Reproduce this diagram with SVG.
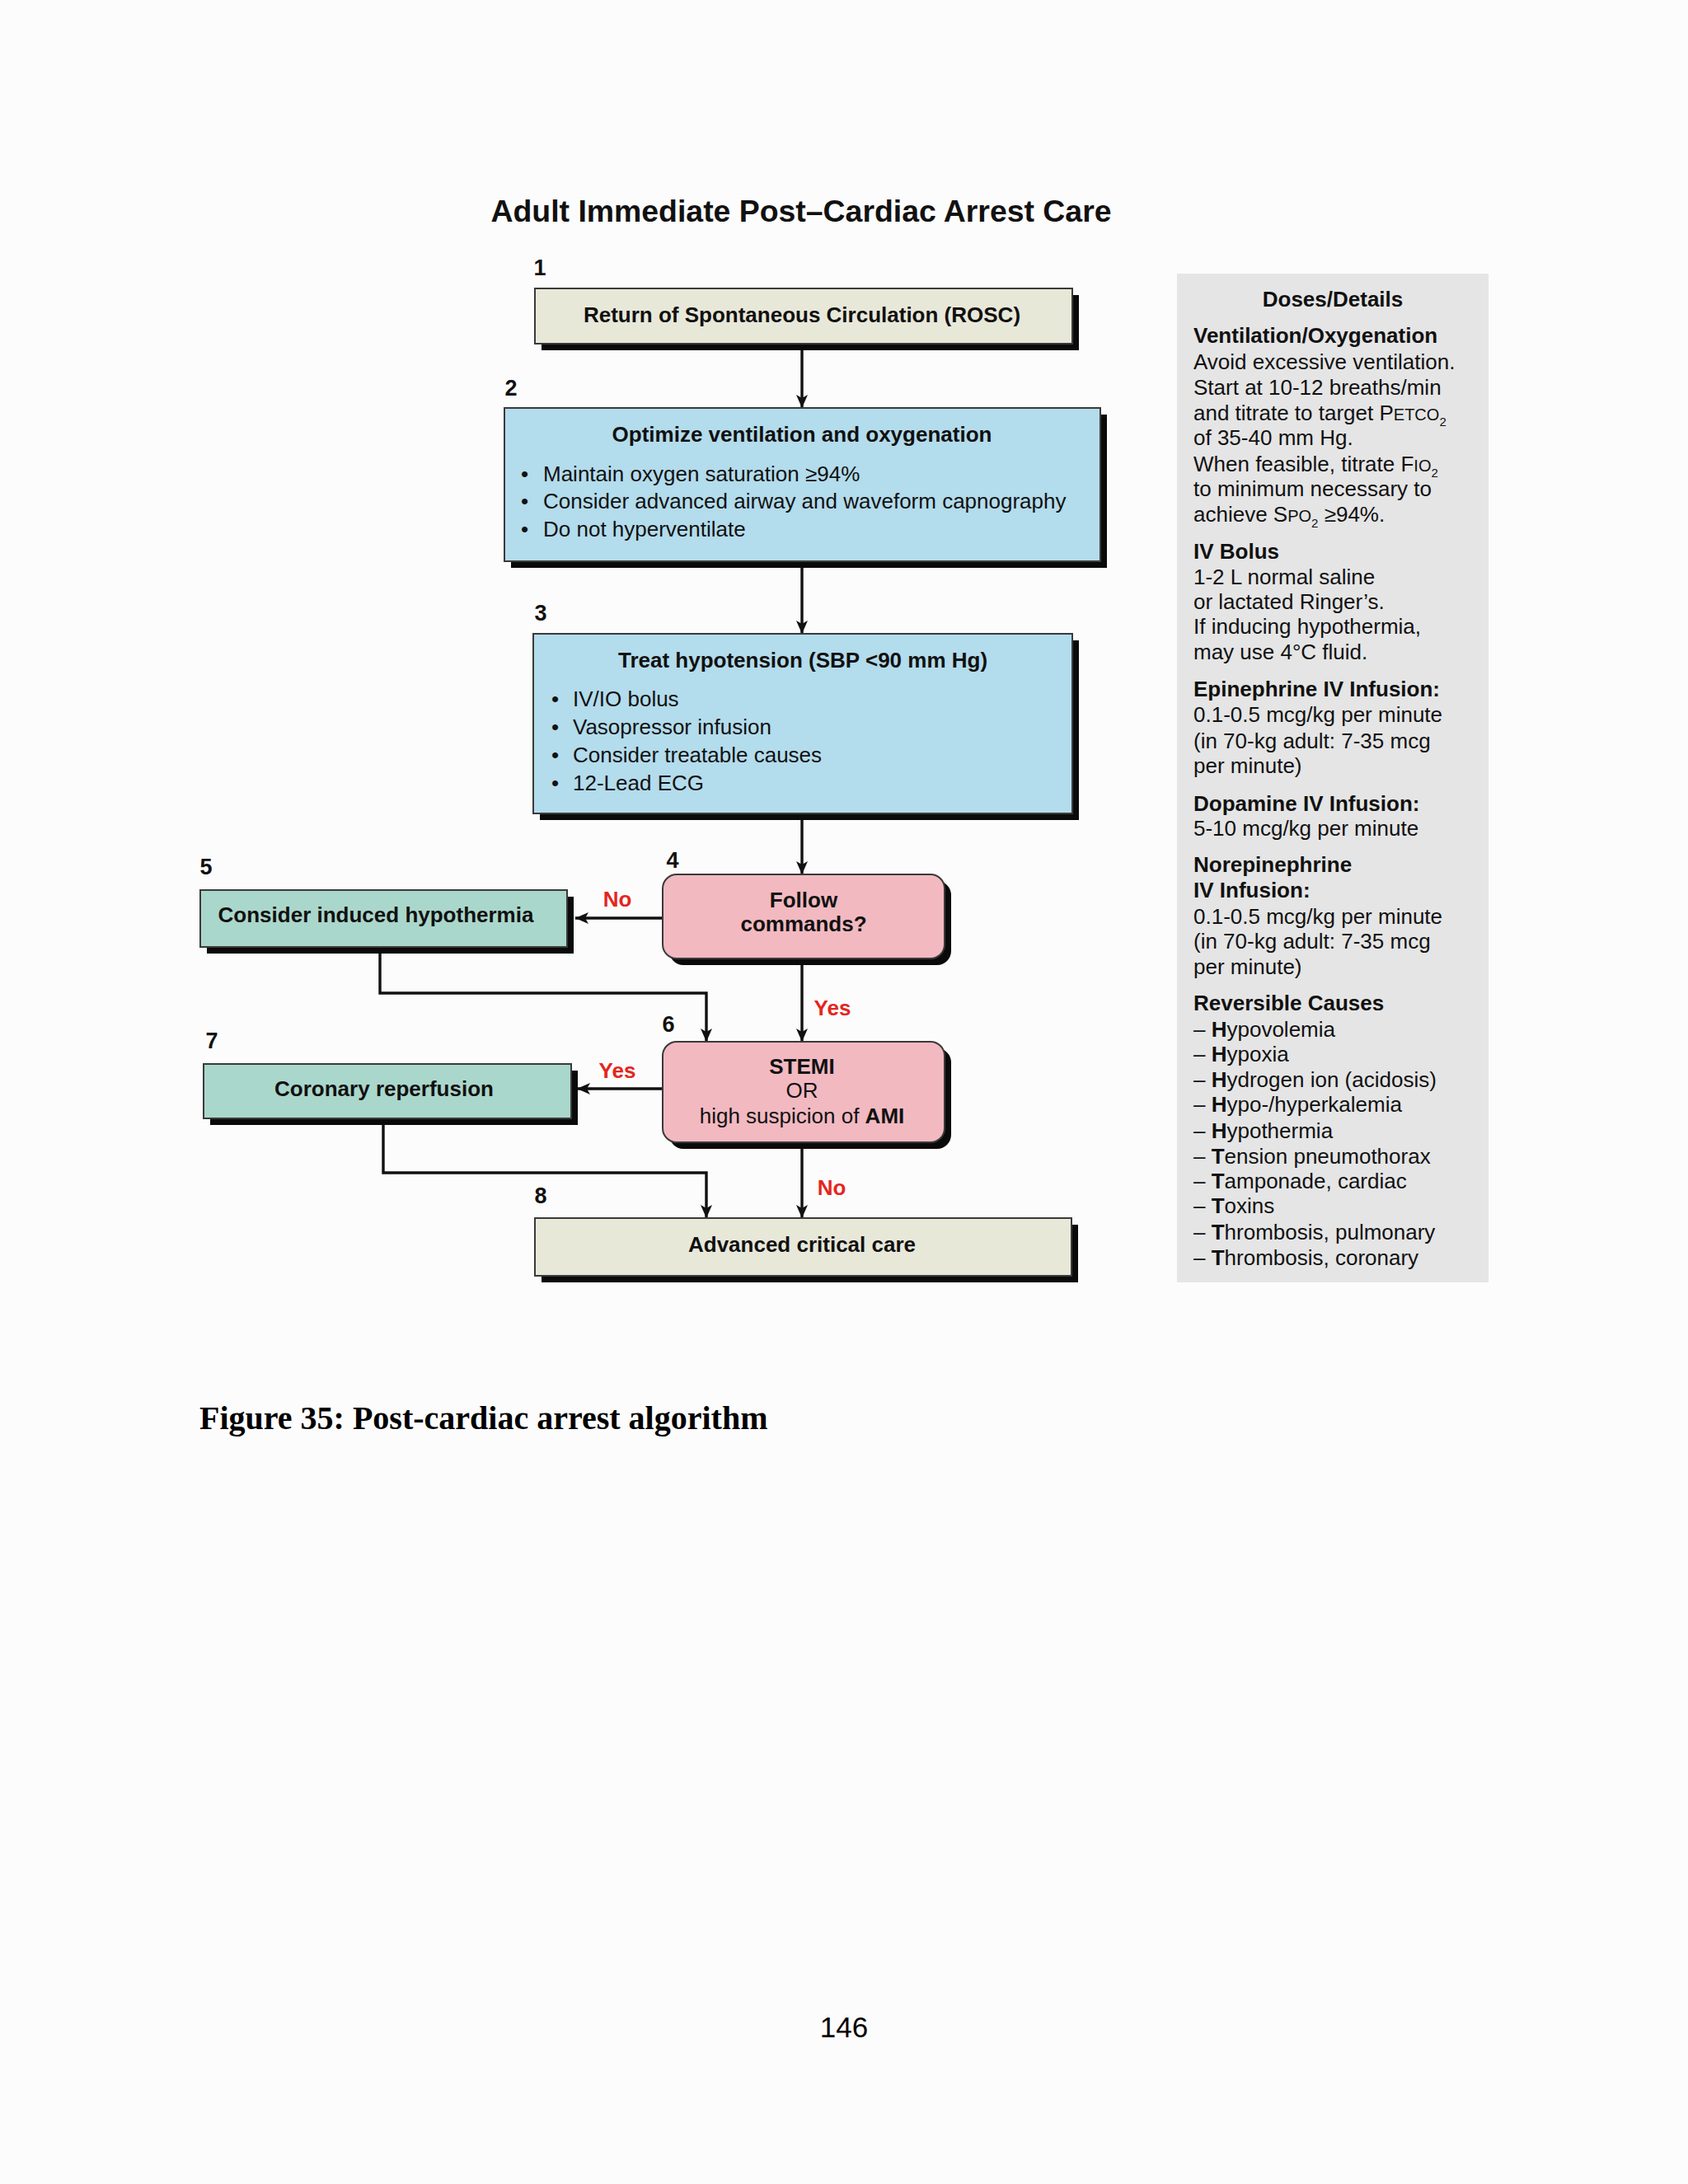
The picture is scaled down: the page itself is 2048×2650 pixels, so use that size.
<svg xmlns="http://www.w3.org/2000/svg" width="2048" height="2650" viewBox="0 0 2048 2650">
<defs>
<style>
.bx{stroke:#3a3a3a;stroke-width:2}
.sh{fill:#0a0a0a}
.beige{fill:#e8e8d9}
.blue{fill:#b3dcec}
.pink{fill:#f2b9c1}
.teal{fill:#aad7cb}
.t{font-family:"Liberation Sans",Arial,Helvetica,sans-serif;fill:#111}
.b{font-weight:bold}
.c{text-anchor:middle}
.box{font-size:26px}
.num{font-size:27px;font-weight:bold}
.lbl{font-size:26px;font-weight:bold;fill:#e3261e;text-anchor:middle}
.pn{font-size:26px}
.ln{stroke:#111;stroke-width:3.4;fill:none}
</style>
<marker id="ah" viewBox="0 0 16 14" refX="16" refY="7" markerWidth="16" markerHeight="14" markerUnits="userSpaceOnUse" orient="auto">
<path d="M0,0 L16,7 L0,14 L4,7 z" fill="#111"/>
</marker>
</defs>
<rect width="2048" height="2650" fill="#fdfcfc"/>

<text class="t b c" x="972" y="269" font-size="37" textLength="753" lengthAdjust="spacingAndGlyphs">Adult Immediate Post–Cardiac Arrest Care</text>

<g id="connectors">
<line class="ln" x1="973" y1="425" x2="973" y2="495" marker-end="url(#ah)"/>
<line class="ln" x1="973" y1="689" x2="973" y2="769" marker-end="url(#ah)"/>
<line class="ln" x1="973" y1="995" x2="973" y2="1061" marker-end="url(#ah)"/>
<line class="ln" x1="804" y1="1114" x2="698" y2="1114" marker-end="url(#ah)"/>
<line class="ln" x1="973" y1="1171" x2="973" y2="1264" marker-end="url(#ah)"/>
<polyline class="ln" points="461,1157 461,1205 857,1205 857,1264" marker-end="url(#ah)"/>
<line class="ln" x1="804" y1="1321" x2="700" y2="1321" marker-end="url(#ah)"/>
<line class="ln" x1="973" y1="1394" x2="973" y2="1478" marker-end="url(#ah)"/>
<polyline class="ln" points="465,1365 465,1423 857,1423 857,1478" marker-end="url(#ah)"/>
<text class="t lbl" x="749" y="1100">No</text>
<text class="t lbl" x="1010" y="1232">Yes</text>
<text class="t lbl" x="749" y="1308">Yes</text>
<text class="t lbl" x="1009" y="1450">No</text>
</g>

<g id="node1">
<text class="t num" x="655" y="334" text-anchor="middle">1</text>
<rect class="sh" x="657" y="358" width="652" height="67"/>
<rect class="bx beige" x="649" y="350" width="652" height="67"/>
<text class="t b c box" x="973" y="391">Return of Spontaneous Circulation (ROSC)</text>
</g>

<g id="node2">
<text class="t num" x="620" y="480" text-anchor="middle">2</text>
<rect class="sh" x="620" y="503" width="723" height="186"/>
<rect class="bx blue" x="612" y="495" width="723" height="186"/>
<text class="t b c box" x="973" y="536">Optimize ventilation and oxygenation</text>
<text class="t box" x="632" y="584">•</text><text class="t box" x="659" y="584">Maintain oxygen saturation ≥94%</text>
<text class="t box" x="632" y="617">•</text><text class="t box" x="659" y="617">Consider advanced airway and waveform capnography</text>
<text class="t box" x="632" y="651">•</text><text class="t box" x="659" y="651">Do not hyperventilate</text>
</g>

<g id="node3">
<text class="t num" x="656" y="753" text-anchor="middle">3</text>
<rect class="sh" x="655" y="777" width="654" height="218"/>
<rect class="bx blue" x="647" y="769" width="654" height="218"/>
<text class="t b c box" x="974" y="810">Treat hypotension (SBP &lt;90 mm Hg)</text>
<text class="t box" x="669" y="857">•</text><text class="t box" x="695" y="857">IV/IO bolus</text>
<text class="t box" x="669" y="891">•</text><text class="t box" x="695" y="891">Vasopressor infusion</text>
<text class="t box" x="669" y="925">•</text><text class="t box" x="695" y="925">Consider treatable causes</text>
<text class="t box" x="669" y="959">•</text><text class="t box" x="695" y="959">12-Lead ECG</text>
</g>

<g id="node4">
<text class="t num" x="816" y="1053" text-anchor="middle">4</text>
<rect class="sh" x="812" y="1069" width="342" height="102" rx="17"/>
<rect class="bx pink" x="804" y="1061" width="342" height="102" rx="17"/>
<text class="t b c box" x="975" y="1101">Follow</text>
<text class="t b c box" x="975" y="1130">commands?</text>
</g>

<g id="node5">
<text class="t num" x="250" y="1061" text-anchor="middle">5</text>
<rect class="sh" x="251" y="1088" width="445" height="69"/>
<rect class="bx teal" x="243" y="1080" width="445" height="69"/>
<text class="t b c box" x="456" y="1119">Consider induced hypothermia</text>
</g>

<g id="node6">
<text class="t num" x="811" y="1252" text-anchor="middle">6</text>
<rect class="sh" x="812" y="1272" width="342" height="122" rx="17"/>
<rect class="bx pink" x="804" y="1264" width="342" height="122" rx="17"/>
<text class="t b c box" x="973" y="1303">STEMI</text>
<text class="t c box" x="973" y="1332">OR</text>
<text class="t c box" x="973" y="1363">high suspicion of <tspan class="b">AMI</tspan></text>
</g>

<g id="node7">
<text class="t num" x="257" y="1272" text-anchor="middle">7</text>
<rect class="sh" x="255" y="1299" width="446" height="66"/>
<rect class="bx teal" x="247" y="1291" width="446" height="66"/>
<text class="t b c box" x="466" y="1330">Coronary reperfusion</text>
</g>

<g id="node8">
<text class="t num" x="656" y="1460" text-anchor="middle">8</text>
<rect class="sh" x="657" y="1486" width="651" height="70"/>
<rect class="bx beige" x="649" y="1478" width="651" height="70"/>
<text class="t b c box" x="973" y="1519">Advanced critical care</text>
</g>

<g id="details">
<rect x="1428" y="332" width="378" height="1224" fill="#e5e5e5"/>
<text class="t b c pn" x="1617" y="372">Doses/Details</text>
<text class="t b pn" x="1448" y="416">Ventilation/Oxygenation</text>
<text class="t pn" x="1448" y="448">Avoid excessive ventilation.</text>
<text class="t pn" x="1448" y="479">Start at 10-12 breaths/min</text>
<text class="t pn" x="1448" y="510">and titrate to target P<tspan font-size="20">ETCO</tspan><tspan font-size="15" dy="7">2</tspan></text>
<text class="t pn" x="1448" y="540">of 35-40 mm Hg.</text>
<text class="t pn" x="1448" y="572">When feasible, titrate F<tspan font-size="20">IO</tspan><tspan font-size="15" dy="7">2</tspan></text>
<text class="t pn" x="1448" y="602">to minimum necessary to</text>
<text class="t pn" x="1448" y="633">achieve S<tspan font-size="20">PO</tspan><tspan font-size="15" dy="7">2</tspan><tspan dy="-7"> ≥94%.</tspan></text>
<text class="t b pn" x="1448" y="678">IV Bolus</text>
<text class="t pn" x="1448" y="709">1-2 L normal saline</text>
<text class="t pn" x="1448" y="739">or lactated Ringer’s.</text>
<text class="t pn" x="1448" y="769">If inducing hypothermia,</text>
<text class="t pn" x="1448" y="800">may use 4°C fluid.</text>
<text class="t b pn" x="1448" y="845">Epinephrine IV Infusion:</text>
<text class="t pn" x="1448" y="876">0.1-0.5 mcg/kg per minute</text>
<text class="t pn" x="1448" y="908">(in 70-kg adult: 7-35 mcg</text>
<text class="t pn" x="1448" y="938">per minute)</text>
<text class="t b pn" x="1448" y="984">Dopamine IV Infusion:</text>
<text class="t pn" x="1448" y="1014">5-10 mcg/kg per minute</text>
<text class="t b pn" x="1448" y="1058">Norepinephrine</text>
<text class="t b pn" x="1448" y="1089">IV Infusion:</text>
<text class="t pn" x="1448" y="1121">0.1-0.5 mcg/kg per minute</text>
<text class="t pn" x="1448" y="1151">(in 70-kg adult: 7-35 mcg</text>
<text class="t pn" x="1448" y="1182">per minute)</text>
<text class="t b pn" x="1448" y="1226">Reversible Causes</text>
<text class="t pn" x="1448" y="1258">–  <tspan class="b">H</tspan>ypovolemia</text>
<text class="t pn" x="1448" y="1288">–  <tspan class="b">H</tspan>ypoxia</text>
<text class="t pn" x="1448" y="1319">–  <tspan class="b">H</tspan>ydrogen ion (acidosis)</text>
<text class="t pn" x="1448" y="1349">–  <tspan class="b">H</tspan>ypo-/hyperkalemia</text>
<text class="t pn" x="1448" y="1381">–  <tspan class="b">H</tspan>ypothermia</text>
<text class="t pn" x="1448" y="1412">–  <tspan class="b">T</tspan>ension pneumothorax</text>
<text class="t pn" x="1448" y="1442">–  <tspan class="b">T</tspan>amponade, cardiac</text>
<text class="t pn" x="1448" y="1472">–  <tspan class="b">T</tspan>oxins</text>
<text class="t pn" x="1448" y="1504">–  <tspan class="b">T</tspan>hrombosis, pulmonary</text>
<text class="t pn" x="1448" y="1535">–  <tspan class="b">T</tspan>hrombosis, coronary</text>
</g>

<text x="242" y="1734" font-family="'Liberation Serif','Times New Roman',serif" font-weight="bold" font-size="40" fill="#000">Figure 35: Post-cardiac arrest algorithm</text>
<text x="1024" y="2472" font-family="'Liberation Sans',Arial,sans-serif" font-size="35" fill="#000" text-anchor="middle">146</text>
</svg>
